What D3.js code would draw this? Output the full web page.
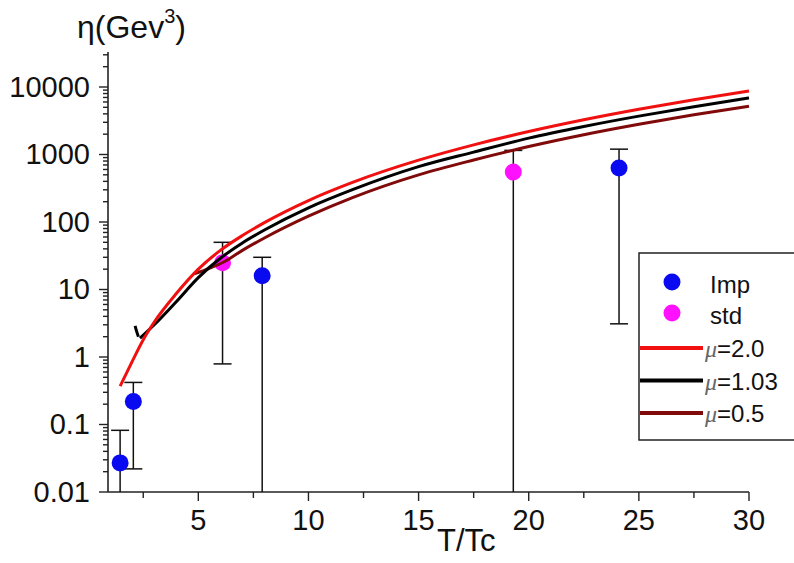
<!DOCTYPE html>
<html>
<head>
<meta charset="utf-8">
<script src="https://cdn.jsdelivr.net/npm/d3@7"></script>
<style>
    body { margin: 0; background: #fff; }
    #chart { width: 794px; height: 563px; }
    text { font-family: "Liberation Sans", Arial, sans-serif; fill: #111; }
    .axis-line { stroke: #222; stroke-width: 1.6; }
    .tick { stroke: #222; stroke-width: 1.4; }
    .errbar { stroke: #111; stroke-width: 1.5; fill: none; }
    .curve { fill: none; stroke-width: 3; }
</style>
</head>
<body>
<div id="chart"></div>
<script>
// curves, eta vs T/Tc
const redT = [1.45, 2, 2.5, 3, 4, 5, 6, 7, 8, 10, 12, 15, 17.5, 20, 22.5, 25, 27.5, 30];
const redEta = [0.37, 0.86, 1.8, 3.3, 8.7, 20, 38, 63, 98, 208, 386, 824, 1390, 2190, 3270, 4680, 6470, 8700];

const blackT = [2.35, 3, 4, 5, 6, 7, 8, 10, 12, 15, 17.5, 20, 22.5, 25, 27.5, 30];
const blackEta = [1.9, 3.0, 6.6, 15, 29, 49, 76, 162, 301, 660, 1085, 1750, 2600, 3700, 5100, 6900];

// little stray bit of the black curve near T=2.2
const blackTailT = [2.13, 2.2, 2.28];
const blackTailEta = [2.9, 2.4, 2.0];

const brownT = [4.8, 5.5, 6.2, 7, 8, 10, 12, 15, 17.5, 20, 22.5, 25, 27.5, 30];
const brownEta = [17, 20.5, 26, 38, 58, 122, 230, 500, 830, 1310, 1960, 2800, 3870, 5200];

// data points with error bars (lo below 0.01 runs off the axis)
const impT = [1.45, 2.05, 7.9, 24.1];
const impEta = [0.027, 0.22, 16, 630];
const impHi = [0.082, 0.42, 30, 1200];
const impLo = [0.001, 0.022, 0.001, 3.1];

const stdT = [6.1, 19.3];
const stdEta = [25, 550];
const stdHi = [50, 1150];
const stdLo = [0.79, 0.001];

const xTicks = [5, 10, 15, 20, 25, 30];
const xMinorTicks = [2.5, 7.5, 12.5, 17.5, 22.5, 27.5];
const yTicks = [0.01, 0.1, 1, 10, 100, 1000, 10000];
const yTickLabels = ["0.01", "0.1", "1", "10", "100", "1000", "10000"];

const legendNames = ["Imp", "std", "=2.0", "=1.03", "=0.5"];

class EtaChart {
    constructor(parentElement) {
        this.parentElement = parentElement;
        this.initVis();
    }

    initVis() {
        let vis = this;

        vis.width = 794;
        vis.height = 563;
        vis.plot = { left: 108, right: 749, top: 52, bottom: 492 };

        vis.svg = d3.select("#" + vis.parentElement)
            .append("svg")
            .attr("width", vis.width)
            .attr("height", vis.height);

        vis.svg.append("rect")
            .attr("width", vis.width)
            .attr("height", vis.height)
            .attr("fill", "#fff");

        vis.x = d3.scaleLinear().domain([0.9, 30]).range([vis.plot.left, vis.plot.right]);
        vis.y = d3.scaleLog().domain([0.01, 33000]).range([vis.plot.bottom, vis.plot.top]);

        vis.svg.append("clipPath")
            .attr("id", "plot-clip")
            .append("rect")
            .attr("x", vis.plot.left)
            .attr("y", 0)
            .attr("width", vis.width - vis.plot.left)
            .attr("height", vis.plot.bottom);

        vis.drawAxes();
        vis.drawPoints();
        vis.drawCurves();
        vis.drawLegend();
    }

    drawAxes() {
        let vis = this;
        let p = vis.plot;

        vis.svg.append("line").attr("class", "axis-line")
            .attr("x1", p.left).attr("x2", p.right)
            .attr("y1", p.bottom).attr("y2", p.bottom);
        vis.svg.append("line").attr("class", "axis-line")
            .attr("x1", p.left).attr("x2", p.left)
            .attr("y1", p.top).attr("y2", p.bottom);

        // x ticks
        vis.svg.selectAll("line.xmajor")
            .data(xTicks)
            .enter()
            .append("line")
            .attr("class", "tick xmajor")
            .attr("x1", d => vis.x(d)).attr("x2", d => vis.x(d))
            .attr("y1", p.bottom).attr("y2", p.bottom + 9);

        vis.svg.selectAll("line.xminor")
            .data(xMinorTicks)
            .enter()
            .append("line")
            .attr("class", "tick xminor")
            .attr("x1", d => vis.x(d)).attr("x2", d => vis.x(d))
            .attr("y1", p.bottom).attr("y2", p.bottom + 6);

        vis.svg.selectAll("text.xlabel")
            .data(xTicks)
            .enter()
            .append("text")
            .attr("class", "xlabel")
            .attr("x", d => vis.x(d))
            .attr("y", 530)
            .attr("text-anchor", "middle")
            .style("font-size", "29px")
            .text(d => d);

        // y ticks, decades + 2..9 minors
        let minors = [];
        for (let e = -2; e <= 4; e++) {
            for (let m = 2; m <= 9; m++) {
                let v = m * Math.pow(10, e);
                if (v <= vis.y.domain()[1]) minors.push(v);
            }
        }

        vis.svg.selectAll("line.yminor")
            .data(minors)
            .enter()
            .append("line")
            .attr("class", "tick yminor")
            .attr("x1", p.left - 5).attr("x2", p.left)
            .attr("y1", d => vis.y(d)).attr("y2", d => vis.y(d));

        vis.svg.selectAll("line.ymajor")
            .data(yTicks)
            .enter()
            .append("line")
            .attr("class", "tick ymajor")
            .attr("x1", p.left - 9).attr("x2", p.left)
            .attr("y1", d => vis.y(d)).attr("y2", d => vis.y(d));

        vis.svg.selectAll("text.ylabel")
            .data(yTicks)
            .enter()
            .append("text")
            .attr("class", "ylabel")
            .attr("x", 90)
            .attr("y", d => vis.y(d) + 10)
            .attr("text-anchor", "end")
            .style("font-size", "29px")
            .text((d, i) => yTickLabels[i]);

        // axis titles
        let yt = vis.svg.append("text")
            .attr("x", 77)
            .attr("y", 38)
            .style("font-size", "32px");
        yt.append("tspan").text("η(Gev");
        yt.append("tspan").attr("dy", -15).style("font-size", "20px").text("3");
        yt.append("tspan").attr("dy", 15).text(")");

        vis.svg.append("text")
            .attr("x", 437)
            .attr("y", 551)
            .style("font-size", "31px")
            .text("T/Tc");
    }

    drawPoints() {
        let vis = this;

        let imp = impT.map((t, i) => ({ t: t, v: impEta[i], hi: impHi[i], lo: impLo[i], color: "#0a0af0" }));
        let std = stdT.map((t, i) => ({ t: t, v: stdEta[i], hi: stdHi[i], lo: stdLo[i], color: "#ff10ff" }));
        let all = imp.concat(std);

        let g = vis.svg.append("g").attr("clip-path", "url(#plot-clip)");
        let cap = 9;

        g.selectAll("line.errbar")
            .data(all)
            .enter()
            .append("line")
            .attr("class", "errbar")
            .attr("x1", d => vis.x(d.t)).attr("x2", d => vis.x(d.t))
            .attr("y1", d => vis.y(d.lo)).attr("y2", d => vis.y(d.hi));

        g.selectAll("line.caphi")
            .data(all)
            .enter()
            .append("line")
            .attr("class", "errbar caphi")
            .attr("x1", d => vis.x(d.t) - cap).attr("x2", d => vis.x(d.t) + cap)
            .attr("y1", d => vis.y(d.hi)).attr("y2", d => vis.y(d.hi));

        g.selectAll("line.caplo")
            .data(all)
            .enter()
            .append("line")
            .attr("class", "errbar caplo")
            .attr("x1", d => vis.x(d.t) - cap).attr("x2", d => vis.x(d.t) + cap)
            .attr("y1", d => vis.y(d.lo)).attr("y2", d => vis.y(d.lo));

        g.selectAll("circle.pt")
            .data(all)
            .enter()
            .append("circle")
            .attr("class", "pt")
            .attr("cx", d => vis.x(d.t))
            .attr("cy", d => vis.y(d.v))
            .attr("r", 8.5)
            .attr("fill", d => d.color);
    }

    drawCurves() {
        let vis = this;

        let line = d3.line()
            .x(d => vis.x(d[0]))
            .y(d => vis.y(d[1]))
            .curve(d3.curveMonotoneX);

        let series = [
            { t: brownT, v: brownEta, color: "#800a0a" },
            { t: blackT, v: blackEta, color: "#000" },
            { t: blackTailT, v: blackTailEta, color: "#000" },
            { t: redT, v: redEta, color: "#f01010" }
        ];

        vis.svg.selectAll("path.curve")
            .data(series)
            .enter()
            .append("path")
            .attr("class", "curve")
            .attr("stroke", d => d.color)
            .attr("d", d => line(d.t.map((t, i) => [t, d.v[i]])));
    }

    drawLegend() {
        let vis = this;

        vis.svg.append("rect")
            .attr("x", 639).attr("y", 253)
            .attr("width", 170).attr("height", 187)
            .attr("fill", "#fff")
            .attr("stroke", "#222")
            .attr("stroke-width", 1.5);

        let dotColors = ["#0a0af0", "#ff10ff"];
        let lineColors = ["#f01010", "#000", "#800a0a"];

        vis.svg.selectAll("circle.leg")
            .data(dotColors)
            .enter()
            .append("circle")
            .attr("class", "leg")
            .attr("cx", 672)
            .attr("cy", (d, i) => 282 + i * 31)
            .attr("r", 8.5)
            .attr("fill", d => d);

        vis.svg.selectAll("line.leg")
            .data(lineColors)
            .enter()
            .append("line")
            .attr("class", "leg")
            .attr("x1", 640).attr("x2", 703)
            .attr("y1", (d, i) => 348 + i * 32.5)
            .attr("y2", (d, i) => 348 + i * 32.5)
            .attr("stroke", d => d)
            .attr("stroke-width", 4);

        vis.svg.selectAll("text.legdot")
            .data(legendNames.slice(0, 2))
            .enter()
            .append("text")
            .attr("class", "legdot")
            .attr("x", 710)
            .attr("y", (d, i) => 293 + i * 31)
            .style("font-size", "24px")
            .text(d => d);

        let lt = vis.svg.selectAll("text.legline")
            .data(legendNames.slice(2))
            .enter()
            .append("text")
            .attr("class", "legline")
            .attr("x", 705)
            .attr("y", (d, i) => 357 + i * 32.5)
            .style("font-size", "24px");
        lt.append("tspan")
            .style("font-family", "'Liberation Serif', serif")
            .style("font-style", "italic")
            .style("fill", "#666")
            .text("μ");
        lt.append("tspan").text(d => d);
    }
}

new EtaChart("chart");
</script>
</body>
</html>
